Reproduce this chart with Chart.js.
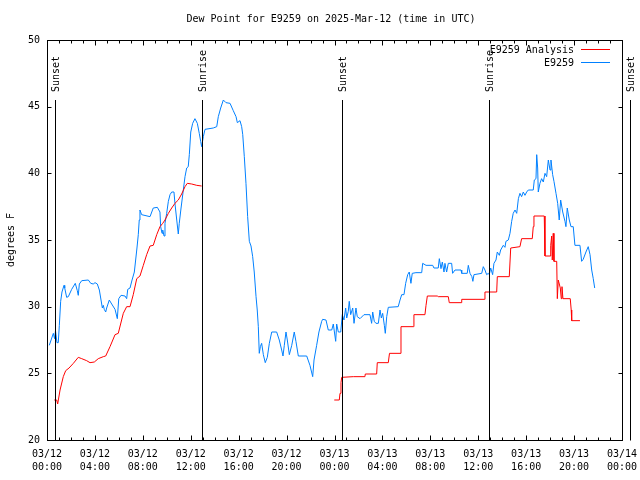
<!DOCTYPE html>
<html>
<head>
<meta charset="utf-8">
<script src="https://cdn.jsdelivr.net/npm/chart.js@4"></script>
<style>html,body{margin:0;padding:0;background:#fff;}</style>
</head>
<body>
<canvas id="c" width="640" height="480"></canvas>
<script>
// Hours since 2025-03-12 00:00 UTC
const blueHours = [0.19,0.53,0.63,0.71,0.83,0.94,1.03,1.14,1.25,1.42,1.48,1.64,1.78,2.06,2.36,2.53,2.61,2.70,2.90,3.45,3.65,3.86,4.01,4.20,4.37,4.51,4.62,4.70,4.78,4.90,4.98,5.20,5.40,5.68,5.87,5.99,6.18,6.51,6.65,6.74,6.93,7.10,7.29,7.40,7.51,7.62,7.70,7.76,7.90,8.60,8.87,9.21,9.43,9.49,9.60,9.66,9.77,9.85,9.99,10.13,10.27,10.41,10.60,10.68,10.83,10.96,11.04,11.19,11.38,11.52,11.66,11.79,11.88,12.00,12.16,12.35,12.55,12.71,12.83,12.91,13.05,13.19,13.88,14.17,14.30,14.50,14.72,14.94,15.28,15.55,15.78,15.89,16.11,16.25,16.34,16.47,16.61,16.75,16.89,17.03,17.17,17.30,17.45,17.55,17.64,17.72,17.81,17.92,18.06,18.22,18.39,18.56,18.76,19.17,19.39,19.59,19.70,19.81,19.95,20.06,20.23,20.43,20.64,20.78,20.98,21.68,21.95,22.18,22.29,22.51,22.70,22.93,23.01,23.29,23.48,23.77,23.90,24.10,24.18,24.32,24.52,24.65,24.79,24.93,25.02,25.15,25.23,25.35,25.52,25.63,25.79,25.90,26.13,26.46,26.96,27.10,27.19,27.32,27.46,27.66,27.80,27.91,28.02,28.16,28.24,28.36,28.49,29.32,29.47,29.61,29.80,29.94,30.11,30.24,30.38,30.49,30.80,31.28,31.36,31.64,32.20,32.30,32.66,32.75,32.89,33.00,33.14,33.22,33.36,33.50,33.78,33.86,34.06,34.56,34.62,35.08,35.17,35.31,35.47,35.55,35.64,36.29,36.42,36.56,36.70,36.84,36.92,37.04,37.20,37.31,37.48,37.59,37.76,37.87,38.09,38.23,38.31,38.51,38.65,38.79,38.92,39.07,39.21,39.35,39.48,39.62,39.76,39.90,40.04,40.18,40.59,40.68,40.82,40.88,40.96,41.01,41.15,41.29,41.43,41.57,41.71,41.85,41.99,42.07,42.21,42.32,42.49,42.63,42.76,42.88,43.05,43.24,43.32,43.43,43.60,43.74,43.93,44.07,44.49,44.63,44.76,44.99,45.18,45.33,45.47,45.60,45.72];
const blueValues = [27.1,28.0,27.6,28.2,27.3,27.3,28.6,30.4,31.1,31.6,31.4,30.7,30.75,31.3,31.75,31.2,30.85,31.7,31.95,32.0,31.75,31.7,31.8,31.7,31.25,30.5,29.9,30.1,29.8,29.6,29.9,30.5,30.2,29.8,29.1,30.6,30.85,30.8,30.6,31.3,31.4,32.0,32.6,33.5,34.4,35.4,36.5,37.25,36.9,36.75,37.4,37.45,37.1,36.0,35.5,35.75,35.3,36.25,37.0,37.9,38.4,38.6,38.6,37.75,36.5,35.45,36.25,37.4,38.75,39.75,40.4,40.5,41.4,43.1,43.75,44.1,43.75,43.0,42.4,42.0,42.75,43.3,43.4,43.5,44.25,44.9,45.5,45.3,45.25,44.7,44.25,43.8,43.95,43.5,42.9,41.25,39.25,36.75,34.9,34.55,33.75,32.6,30.75,29.75,28.5,26.5,27.0,27.25,26.4,25.8,26.2,27.25,28.1,28.1,27.5,26.75,26.3,27.1,28.1,27.5,26.4,27.1,28.1,27.4,26.3,26.3,25.6,24.75,26.0,27.1,28.1,28.9,29.05,29.0,28.25,28.25,28.7,27.4,28.7,28.1,28.1,29.4,29.0,29.9,29.15,29.65,30.4,29.4,29.9,28.75,29.9,29.25,29.1,29.4,29.4,28.75,29.6,28.9,28.75,28.75,29.75,29.15,29.5,28.6,28.0,29.25,29.95,30.0,30.5,30.9,30.9,31.75,32.4,32.6,31.75,32.5,32.55,32.55,33.25,33.1,33.1,32.9,32.9,33.6,32.85,33.35,32.6,33.25,32.6,33.25,33.25,32.5,32.75,32.75,32.5,32.5,33.1,32.5,32.25,31.9,32.4,32.5,33.0,32.75,32.4,32.5,32.4,32.9,32.4,33.25,33.5,34.1,33.85,34.25,34.6,34.45,34.9,35.0,35.5,36.4,37.0,37.25,37.0,38.1,38.5,38.25,38.6,38.35,38.6,38.75,38.75,39.5,39.6,41.4,40.4,38.6,39.25,39.6,39.35,40.0,39.75,41.0,40.25,41.0,39.9,39.4,38.5,37.75,36.5,38.0,37.1,36.4,36.0,37.4,36.5,36.0,36.0,34.6,34.6,33.4,33.55,34.1,34.5,33.9,32.75,32.1,31.4];

const redHours = [0.61,0.81,0.89,1.09,1.36,1.56,1.84,2.20,2.61,2.90,3.31,3.59,3.95,4.28,4.70,4.90,5.26,5.68,5.95,6.37,6.65,6.93,7.20,7.49,7.76,8.04,8.32,8.60,8.87,9.16,9.43,9.66,9.85,10.13,10.41,10.68,10.96,11.24,11.52,11.71,12.08,12.50,12.91,
  18.00,
  23.98,24.40,24.46,24.54,24.60,25.57,26.54,26.57,27.52,27.57,28.49,28.59,29.47,29.55,30.58,30.63,31.55,31.64,31.75,32.58,32.66,33.50,33.58,34.56,34.62,36.50,36.56,37.54,37.59,38.59,38.71,39.48,39.62,40.51,40.59,40.65,41.51,41.57,41.99,42.05,42.13,42.18,42.26,42.32,42.55,42.60,42.68,42.85,42.93,42.99,43.07,43.68,43.76,43.80,44.49];
const redValues = [23.0,23.0,22.7,23.75,24.75,25.2,25.4,25.75,26.2,26.1,25.95,25.8,25.85,26.1,26.25,26.3,27.0,27.9,28.0,29.5,30.0,30.0,30.9,32.1,32.3,33.1,33.9,34.55,34.6,35.4,36.0,36.25,36.5,37.0,37.4,37.75,38.0,38.45,39.0,39.25,39.2,39.1,39.05,
  null,
  23.0,23.0,23.5,24.3,24.7,24.75,24.75,24.95,24.95,25.8,25.8,26.5,26.5,28.5,28.5,29.4,29.4,30.1,30.8,30.8,30.75,30.75,30.3,30.3,30.55,30.55,31.1,31.1,32.25,32.25,34.4,34.5,35.1,35.1,36.0,36.8,36.8,33.8,33.8,34.6,35.3,33.5,35.5,33.4,33.4,30.6,32.0,31.4,30.6,31.5,30.6,30.6,29.75,28.95,28.95];

const sunHours = [0.67, 12.96, 24.65, 36.90, 48.67];
const sunLabels = ["Sunset", "Sunrise", "Sunset", "Sunrise", "Sunset"];

const yTicks = [20, 25, 30, 35, 40, 45, 50];
const titleText = "Dew Point for E9259 on 2025-Mar-12 (time in UTC)";
const yTitle = "degrees F";
const seriesNames = ["E9259 Analysis", "E9259"];
const seriesColors = ["#ff0000", "#0080ff"];

const FONT = "10px 'DejaVu Sans Mono', monospace";

function toXY(hs, vs) { return hs.map((h, i) => ({ x: h, y: vs[i] })); }

const decor = {
  id: 'decor',
  afterDraw(chart) {
    const ctx = chart.ctx;
    const xs = chart.scales.x, ys = chart.scales.y;
    const a = chart.chartArea;
    const L = Math.round(a.left) + 0.5, R = Math.round(a.right) + 0.5;
    const T = Math.round(a.top) + 0.5, B = Math.round(a.bottom) + 0.5;
    ctx.save();
    ctx.strokeStyle = '#000';
    ctx.lineWidth = 1;
    ctx.strokeRect(L, T, R - L, B - T);
    ctx.beginPath();
    for (let h = 0; h <= 48; h++) {
      const px = Math.round(xs.getPixelForValue(h)) + 0.5;
      const len = (h % 4 === 0) ? 5 : 3;
      ctx.moveTo(px, B); ctx.lineTo(px, B - len);
      ctx.moveTo(px, T); ctx.lineTo(px, T + len);
    }
    yTicks.forEach(v => {
      const py = Math.round(ys.getPixelForValue(v)) + 0.5;
      ctx.moveTo(L, py); ctx.lineTo(L + 4, py);
      ctx.moveTo(R, py); ctx.lineTo(R - 4, py);
    });
    ctx.stroke();
    ctx.fillStyle = '#000';
    ctx.font = FONT;
    sunHours.forEach((h, i) => {
      const px = Math.round(xs.getPixelForValue(h)) + 0.5;
      ctx.beginPath();
      ctx.moveTo(px, 100); ctx.lineTo(px, B);
      ctx.stroke();
      ctx.save();
      ctx.translate(px + 1, 92);
      ctx.rotate(-Math.PI / 2);
      ctx.textAlign = 'left';
      ctx.textBaseline = 'middle';
      ctx.fillText(sunLabels[i], 0, 0);
      ctx.restore();
    });
    ctx.textAlign = 'center';
    ctx.textBaseline = 'middle';
    ctx.fillText(titleText, 331, 19);
    ctx.save();
    ctx.translate(11, 240);
    ctx.rotate(-Math.PI / 2);
    ctx.fillText(yTitle, 0, 0);
    ctx.restore();
    const ly = [50, 63];
    chart.data.datasets.forEach((ds, i) => {
      ctx.textAlign = 'right';
      ctx.fillStyle = '#000';
      ctx.fillText(ds.label, 574, ly[i]);
      ctx.strokeStyle = ds.borderColor;
      ctx.beginPath();
      ctx.moveTo(581, ly[i] - 0.5); ctx.lineTo(610, ly[i] - 0.5);
      ctx.stroke();
    });
    ctx.restore();
  }
};

new Chart(document.getElementById('c'), {
  type: 'line',
  data: {
    datasets: [
      { label: seriesNames[0], data: toXY(redHours, redValues), borderColor: seriesColors[0], borderWidth: 1, pointRadius: 0, tension: 0, spanGaps: false, fill: false },
      { label: seriesNames[1], data: toXY(blueHours, blueValues), borderColor: seriesColors[1], borderWidth: 1, pointRadius: 0, tension: 0, spanGaps: false, fill: false }
    ]
  },
  options: {
    responsive: false,
    animation: false,
    layout: { padding: { top: 40, right: 18, left: 0, bottom: 0 } },
    plugins: { legend: { display: false }, tooltip: { enabled: false }, title: { display: false } },
    scales: {
      x: {
        type: 'linear', min: 0, max: 48,
        grid: { display: false, drawTicks: false },
        border: { display: false },
        afterFit(s) { s.height = 40; s.paddingLeft = 0; s.paddingRight = 0; },
        afterBuildTicks(s) { s.ticks = []; for (let h = 0; h <= 48; h += 4) s.ticks.push({ value: h }); },
        ticks: {
          autoSkip: false, maxRotation: 0, minRotation: 0, padding: 8, color: '#000',
          font: { family: "'DejaVu Sans Mono', monospace", size: 10, lineHeight: 1.3 },
          callback(v) {
            const d = 12 + Math.floor(v / 24);
            const hh = v % 24;
            return ["03/" + String(d).padStart(2, '0'), String(hh).padStart(2, '0') + ":00"];
          }
        }
      },
      y: {
        min: 20, max: 50,
        grid: { display: false, drawTicks: false },
        border: { display: false },
        afterFit(s) { s.width = 47; s.paddingTop = 0; s.paddingBottom = 0; },
        afterBuildTicks(s) { s.ticks = yTicks.map(v => ({ value: v })); },
        ticks: { padding: 7, color: '#000', font: { family: "'DejaVu Sans Mono', monospace", size: 10 } }
      }
    }
  },
  plugins: [decor]
});
</script>
</body>
</html>
